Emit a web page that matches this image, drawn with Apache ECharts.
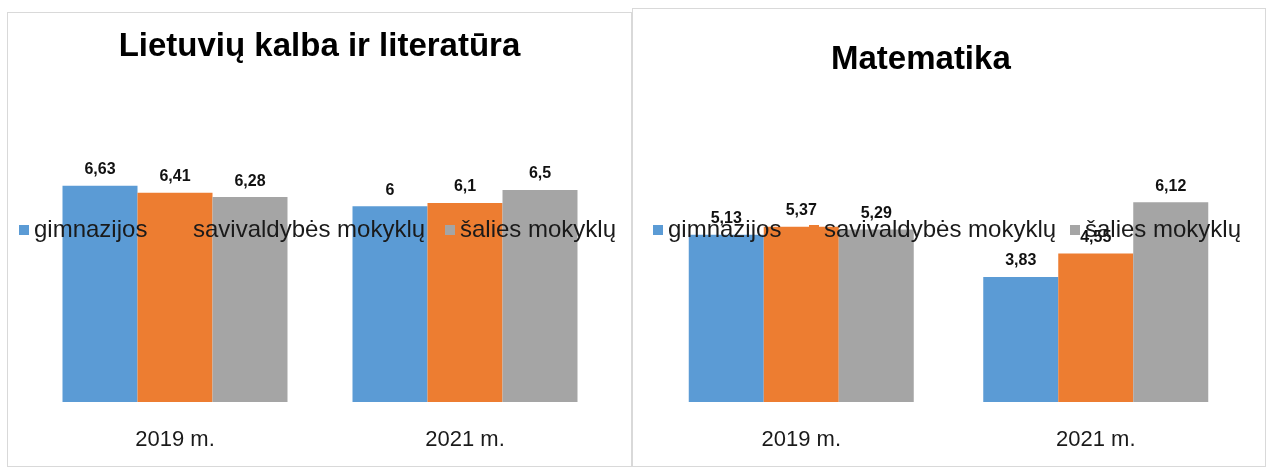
<!DOCTYPE html>
<html>
<head>
<meta charset="utf-8">
<script src="https://cdn.jsdelivr.net/npm/echarts@6/dist/echarts.min.js"></script>
<style>
  body { margin: 0; background: #fff; }
  .panel { position: absolute; border: 1px solid #d9d9d9; box-sizing: border-box; }
</style>
</head>
<body>
<div id="left" class="panel" style="left:7px;top:12px;width:625px;height:455px"></div>
<div id="right" class="panel" style="left:632px;top:8px;width:634px;height:459px"></div>
<script>
// duomenys
var categories = ['2019 m.', '2021 m.'];
var seriesNames = ['gimnazijos', 'savivaldybės mokyklų', 'šalies mokyklų'];
var colors = ['#5B9BD5', '#ED7D31', '#A5A5A5'];

// Lietuvių kalba ir literatūra
var lietGimnazijos = [6.63, 6];
var lietSavivaldybes = [6.41, 6.1];
var lietSalies = [6.28, 6.5];

// Matematika
var matGimnazijos = [5.13, 3.83];
var matSavivaldybes = [5.37, 4.55];
var matSalies = [5.29, 6.12];

var font = '"Liberation Sans", Arial, sans-serif';

function makeOption(cfg) {
  var data = [cfg.a, cfg.b, cfg.c];
  return {
    animation: false,
    color: colors,
    title: {
      text: cfg.title,
      left: cfg.titleLeft,
      top: cfg.titleTop,
      textStyle: { fontFamily: font, fontSize: 33, fontWeight: 'bold', color: '#000' }
    },
    // trys atskiros legendos, kad išdėstymas būtų kaip originale
    legend: seriesNames.map(function (name, i) {
      return {
        data: [name],
        left: cfg.legendLeft[i],
        top: cfg.legendTop,
        icon: 'rect',
        itemWidth: 10,
        itemHeight: 10,
        selectedMode: false,
        textStyle: { fontFamily: font, fontSize: 24, color: '#1a1a1a' }
      };
    }),
    grid: cfg.grid,
    xAxis: {
      type: 'category',
      data: categories,
      axisLine: { show: false },
      axisTick: { show: false },
      axisLabel: { fontFamily: font, fontSize: 22, color: '#1a1a1a', margin: 27 }
    },
    yAxis: {
      type: 'value',
      min: 0,
      max: 8,
      show: false,
      splitLine: { show: false }
    },
    series: seriesNames.map(function (name, i) {
      return {
        name: name,
        type: 'bar',
        data: data[i],
        barWidth: 75,
        barGap: '0%',
        label: {
          show: true,
          position: 'top',
          distance: 8,
          fontFamily: font,
          fontSize: 16,
          fontWeight: 'bold',
          color: '#111',
          formatter: function (p) { return String(p.value).replace('.', ','); }
        }
      };
    })
  };
}

var leftChart = echarts.init(document.getElementById('left'));
leftChart.setOption(makeOption({
  title: 'Lietuvių kalba ir literatūra',
  titleLeft: 'center',
  titleTop: 12,
  a: lietGimnazijos, b: lietSavivaldybes, c: lietSalies,
  legendLeft: [6, 165, 432],
  legendTop: 200,
  grid: { left: 22, width: 580, top: 128, height: 261 }
}));

var rightChart = echarts.init(document.getElementById('right'));
rightChart.setOption(makeOption({
  title: 'Matematika',
  titleLeft: 193,
  titleTop: 29,
  a: matGimnazijos, b: matSavivaldybes, c: matSalies,
  legendLeft: [15, 171, 432],
  legendTop: 204,
  grid: { left: 21, width: 589, top: 132, height: 261 }
}));
</script>
</body>
</html>
